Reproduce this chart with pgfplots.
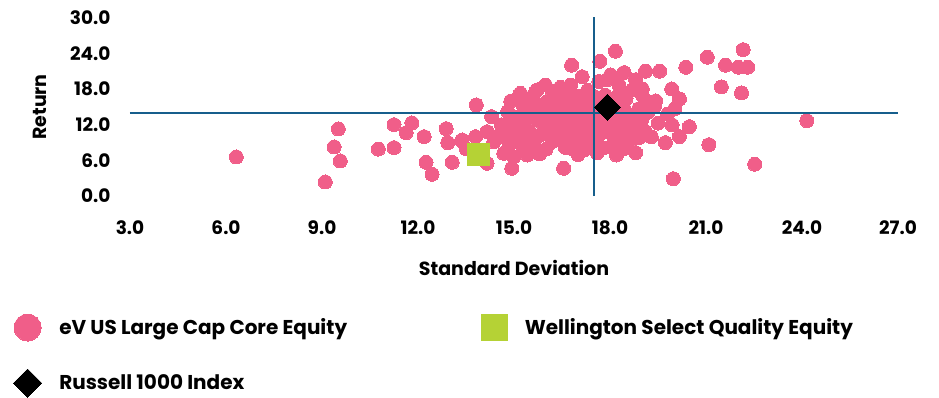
\documentclass[border=0pt]{standalone}
\usepackage{pgfplots}
\pgfplotsset{compat=1.18}
\usepackage{fontspec}
\setmainfont{Poppins}
\definecolor{pinkc}{RGB}{240,94,137}
\definecolor{greenc}{RGB}{181,210,53}
\definecolor{linec}{RGB}{22,94,140}
\begin{document}
\begin{tikzpicture}
\path[use as bounding box] (0pt,0pt) rectangle (939pt,-398pt);
\begin{axis}[
  clip marker paths=true,
  at={(130pt,-196pt)}, anchor=south west,
  scale only axis, width=768pt, height=178pt,
  xmin=3, xmax=27, ymin=0, ymax=30,
  clip=false,
  axis line style={draw=none}, tick style={draw=none},
  xtick={3,6,9,12,15,18,21,24,27},
  xticklabels={3.0,6.0,9.0,12.0,15.0,18.0,21.0,24.0,27.0},
  ytick={0,6,12,18,24,30},
  yticklabels={0.0,6.0,12.0,18.0,24.0,30.0},
  ticklabel style={font=\fontsize{18.5}{19}\selectfont\bfseries},
  yticklabel style={xshift=-16pt},
  xticklabel style={yshift=-21pt},
  xlabel={Standard Deviation}, ylabel={Return},
  label style={font=\fontsize{19}{20}\selectfont\bfseries},
  x label style={at={(axis description cs:0.5,-0.4045)}, anchor=center},
  y label style={at={(axis description cs:-0.117,0.5)}, anchor=center},
  legend columns=2,
  legend cell align=left,
  legend style={draw=none, fill=none, inner sep=0pt,
    at={(axis description cs:-0.152,-0.662)}, anchor=north west,
    font=\fontsize{20}{21}\selectfont\bfseries,
    nodes={inner sep=2pt}, row sep=28pt,
    /tikz/every odd column/.append style={column sep=15.5pt}},
]
\addplot[pinkc, only marks, mark=*, mark size=7pt, mark options={draw=pinkc, fill=pinkc, line width=0pt},
  legend image post style={mark size=13.5pt}] table {
x y
6.32 6.58
9.10 2.36
9.38 8.26
9.51 11.30
9.57 5.90
10.76 7.90
11.25 8.15
11.25 12.02
11.81 12.31
11.63 10.67
12.19 10.00
12.25 5.68
12.44 3.66
12.88 11.35
12.93 8.99
13.07 5.68
13.37 9.33
13.82 15.35
13.51 7.93
13.80 10.00
13.38 9.44
13.74 7.76
14.16 10.84
14.37 9.16
14.30 13.37
14.16 5.51
14.68 10.84
14.79 12.26
14.99 13.37
14.84 8.89
14.68 7.20
14.99 6.63
14.93 4.67
15.05 10.84
15.12 16.36
15.41 6.91
15.45 7.50
15.52 8.89
15.62 15.35
15.70 17.76
15.72 7.76
16.55 4.67
16.79 8.04
16.80 22.04
17.68 22.71
18.17 24.40
18.80 7.30
19.01 18.04
19.11 21.03
19.29 10.00
19.43 16.02
19.55 21.03
19.73 8.99
19.93 18.04
19.94 11.97
19.98 2.92
20.02 14.67
20.17 10.00
20.17 16.36
20.37 21.70
20.48 11.69
21.04 23.39
21.09 8.65
21.48 18.38
21.61 22.04
22.01 21.70
22.11 17.37
22.16 24.67
22.30 21.70
22.52 5.35
24.15 12.70
15.73 17.9
15.98 18.7
16.45 18.3
16.77 18.7
17.13 20.1
18.02 20.4
18.44 20.8
18.80 19.6
18.28 18.7
17.91 19.6
17.65 19.3
15.2 17.3
15.6 16.9
16.2 17.6
16.8 17.2
17.3 17.8
18.3 17.4
18.7 17.9
19.0 17.1
14.9 16.0
15.5 16.2
16.0 15.8
16.5 16.3
17.0 16.1
17.6 16.5
18.1 16.0
18.5 16.4
19.2 15.9
15.3 15.0
15.8 14.8
16.3 15.2
16.9 14.9
17.3 15.3
18.4 15.1
18.9 14.7
19.4 15.2
14.8 14.2
15.4 13.8
16.0 14.1
16.6 13.9
17.1 14.3
17.6 13.7
18.2 14.0
18.7 13.6
19.2 14.2
19.8 13.8
15.0 13.0
15.7 12.8
16.2 13.2
16.8 12.9
17.4 13.1
18.0 12.7
18.5 13.2
19.0 12.9
14.6 12.0
15.3 11.8
15.9 12.2
16.5 11.9
17.0 12.3
17.7 11.8
18.3 12.1
18.8 11.7
19.5 12.3
14.9 11.0
15.5 10.8
16.1 11.2
16.8 10.9
17.3 11.1
18.0 10.7
18.6 11.2
19.1 10.9
14.5 10.1
15.2 9.8
15.8 10.2
16.4 9.9
17.0 10.3
17.6 9.7
18.2 10.1
18.9 9.8
15.0 9.1
15.6 8.9
16.2 9.2
16.9 8.8
17.5 9.1
18.1 8.7
18.6 9.2
15.3 8.1
16.0 7.9
16.6 8.2
17.2 7.8
17.8 8.1
18.4 7.9
15.8 7.1
17.0 7.0
17.6 7.3
18.2 6.9
16.35 16.9
16.95 16.8
17.45 16.9
17.85 17.0
16.65 15.6
17.25 15.7
17.75 15.5
18.25 15.6
15.95 13.5
16.45 14.6
17.35 14.5
17.85 14.4
18.45 14.6
16.05 12.6
16.6 12.5
17.2 12.6
17.9 13.5
18.5 12.4
16.3 10.5
17.3 10.3
17.75 10.9
18.5 10.5
16.6 9.6
17.2 9.5
18.4 9.4
};
\addlegendentry{\makebox[420pt][l]{eV US Large Cap Core Equity}}
\addplot[forget plot, linec, line width=1.5pt] coordinates {(3,14.0) (27,14.0)};
\addplot[forget plot, linec, line width=1.5pt] coordinates {(17.5,0) (17.5,30.2)};
\addplot[greenc, only marks, mark=square*, mark size=11pt, mark options={draw=greenc, fill=greenc, line width=0pt},
  legend image post style={mark size=13pt}] coordinates {(13.88,7.03)};
\addlegendentry{Wellington Select Quality Equity}
\addplot[black, only marks, mark=square*, mark size=9.2pt, mark options={draw=black, fill=black, line width=0pt, rotate=45},
  legend image post style={mark size=10pt}] coordinates {(17.92,14.96)};
\addlegendentry{Russell 1000 Index}
\end{axis}
\end{tikzpicture}
\end{document}
